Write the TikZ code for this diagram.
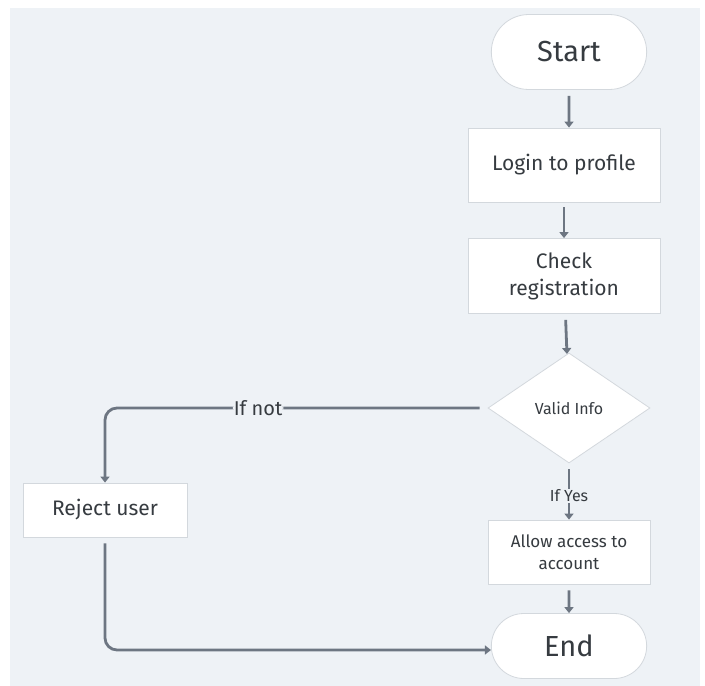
\documentclass[tikz,border=0pt]{standalone}
\usepackage{fontspec}
\setmainfont{Fira Sans}
\usetikzlibrary{shapes.geometric,shapes.misc,arrows.meta}
\definecolor{bgcol}{HTML}{EEF2F6}
\definecolor{linecol}{HTML}{6D7682}
\definecolor{edgecol}{HTML}{D3D8DD}
\definecolor{txtcol}{HTML}{363B40}

\begin{document}
\begin{tikzpicture}[x=1pt,y=-1pt,
  box/.style={draw=edgecol,line width=0.8pt,fill=white,text=txtcol,align=center,font=\fontsize{21}{27}\selectfont},
  terminal/.style={box,rounded rectangle,minimum width=162pt,font=\fontsize{29}{32}\selectfont},
  decision/.style={box,diamond,aspect=1.49,minimum width=162pt,minimum height=110pt,inner sep=0pt,font=\fontsize{16}{18}\selectfont},
  flow/.style={linecol,line width=2.8pt,-{Triangle[length=6pt,width=9pt]}},
  lbl/.style={fill=bgcol,text=txtcol,inner sep=1pt}]
\useasboundingbox (0,0) rectangle (705,686);
\fill[white] (0,0) rectangle (705,686);
\fill[bgcol] (10,8) rectangle (700,686);

\node[terminal,minimum height=75pt] (start) at (569,52) {Start};
\node[box,minimum width=192pt,minimum height=74pt] (login) at (564,165) {Login to profile};
\node[box,minimum width=192pt,minimum height=75pt] (check) at (564,276) {Check\\registration};
\node[decision] (valid) at (569,408) {Valid Info};
\node[box,minimum width=164pt,minimum height=54pt] (reject) at (105,510) {Reject user};
\node[box,minimum width=162pt,minimum height=64pt,font=\fontsize{17}{22}\selectfont] (allow) at (569,552) {Allow access to\\account};
\node[terminal,minimum height=65pt] (end) at (569,646) {End};

\draw[flow,shorten <=6pt] (start) -- (login.north -| start.south);
\draw[flow,shorten <=5pt] (login) -- (check);
\draw[flow,shorten <=6pt] (check) -- (valid);
\draw[flow,shorten <=6pt] (valid.south) -- (allow.north -| valid.south)
  node[lbl,pos=0.58,font=\fontsize{16}{18}\selectfont] {If Yes};
\draw[flow,shorten <=6pt] (allow) -- (end);
\draw[flow,rounded corners=12pt,shorten <=8pt] (valid.west) -- (reject.north |- valid.west)
  node[lbl,pos=0.6,font=\fontsize{20}{22}\selectfont] {If not} -- (reject.north);
\draw[flow,rounded corners=12pt,shorten <=6pt] (reject.south) -- ([yshift=-4pt]reject.south |- end.west) -- ([yshift=-4pt]end.west);
\end{tikzpicture}
\end{document}
